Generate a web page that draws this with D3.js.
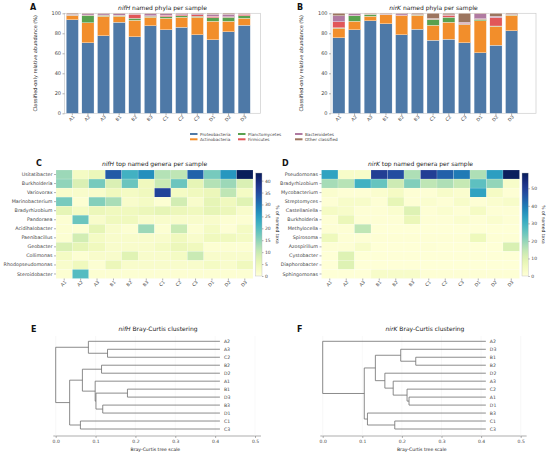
<!DOCTYPE html>
<html>
<head>
<meta charset="utf-8">
<script src="https://cdn.jsdelivr.net/npm/d3@7"></script>
<style>
  body { margin: 0; background: #fff; }
  text { font-family: "DejaVu Sans", sans-serif; }
</style>
</head>
<body>
<svg id="fig" width="550" height="457"></svg>
<script>
// ---- data ----
const samples = ['A1', 'A2', 'A3', 'B1', 'B2', 'B3', 'C1', 'C2', 'C3', 'D1', 'D2', 'D3'];
const phyla = ['Proteobacteria', 'Actinobacteria', 'Planctomycetes', 'Firmicutes', 'Bacteroidetes', 'Other classified'];
const phylaColors = ['#4e79a7', '#f28e2b', '#59a14f', '#e15759', '#b07aa1', '#9c755f'];

// % per phylum, one array per phylum (order = samples)
const nifHPhyla = [
  [93.5, 70.5, 77.5, 91.0, 76.5, 87.5, 83.5, 86.0, 78.5, 73.5, 81.5, 88.0],
  [4.0, 20.0, 19.5, 6.0, 16.5, 8.5, 11.5, 10.0, 17.5, 18.5, 10.5, 7.0],
  [0.5, 7.5, 1.0, 0.8, 2.0, 1.0, 1.5, 1.5, 1.0, 3.5, 4.0, 2.5],
  [0.3, 0.3, 0.3, 0.3, 4.0, 0.5, 1.5, 1.0, 1.5, 1.5, 0.5, 1.5],
  [0.7, 1.2, 1.2, 1.4, 0.5, 2.0, 1.5, 1.0, 1.0, 2.0, 2.5, 0.5],
  [1.0, 0.5, 0.5, 0.5, 0.5, 0.5, 0.5, 0.5, 0.5, 1.0, 1.0, 0.5]
];
const nirKPhyla = [
  [75.5, 83.5, 92.5, 89.5, 78.5, 84.0, 73.0, 74.0, 70.5, 60.5, 68.0, 82.5],
  [9.5, 8.5, 4.5, 9.0, 19.0, 14.0, 15.0, 17.0, 18.0, 32.0, 19.0, 15.5],
  [0.5, 5.5, 2.0, 0.3, 0.3, 0.3, 6.0, 5.0, 0.5, 1.5, 0.3, 0.3],
  [6.0, 0.3, 0.2, 0.2, 0.5, 0.2, 0.3, 2.0, 1.0, 0.5, 8.5, 0.2],
  [6.0, 2.0, 0.3, 0.5, 1.2, 0.3, 0.5, 0.5, 1.0, 5.0, 1.2, 0.5],
  [2.5, 0.2, 0.5, 0.5, 0.5, 1.2, 5.2, 1.5, 9.0, 0.5, 3.0, 1.0]
];

// top genera, % of named taxa (rows = genera, cols = samples)
const nifHGenera = ['Usitatibacter', 'Burkholderia', 'Variovorax', 'Marinobacterium', 'Bradyrhizobium', 'Pandoraea',
  'Acidihalobacter', 'Paenibacillus', 'Geobacter', 'Collimonas', 'Rhodopseudomonas', 'Steroidobacter'];
const nifHGenusPct = [
  [14, 3, 5, 33, 22, 27, 12, 11, 32, 17, 26, 43],
  [15, 8, 17, 8, 18, 4, 10, 18, 6, 12, 14, 8],
  [2, 2, 2, 4, 3, 4, 36, 3, 4, 5, 11, 3],
  [17, 1, 16, 13, 2, 3, 1, 9, 2, 6, 4, 7],
  [6, 3, 5, 4, 4, 5, 6, 5, 4, 6, 5, 2],
  [1, 18, 2, 4, 4, 2, 2, 2, 2, 2, 1, 1],
  [1, 1, 6, 2, 1, 14, 1, 10, 1, 3, 0.5, 3],
  [1, 9, 3, 2, 2, 2, 2, 4, 2, 4, 4, 3],
  [8, 6, 4, 2, 2, 2, 3, 5, 4, 1, 1, 1],
  [3, 1, 2, 2, 7, 2, 2, 3, 10, 2, 2, 2],
  [2, 4, 1, 5, 2, 2, 2, 2, 2, 3, 2, 4],
  [1, 20, 1, 1, 1, 1, 1, 1, 1, 1, 1, 1]
];
const nirKGenera = ['Pseudomonas', 'Bradyrhizobium', 'Mycobacterium', 'Streptomyces', 'Castellaniella', 'Burkholderia',
  'Methylocella', 'Spirosoma', 'Azospirillum', 'Cystobacter', 'Diaphorobacter', 'Sphingomonas'];
const nirKGenusPct = [
  [33, 3, 3, 50, 47, 17, 50, 44, 40, 17, 34, 58],
  [18, 16, 30, 25, 13, 22, 15, 17, 14, 26, 20, 3],
  [2, 1, 1, 2, 4, 1, 1, 3, 2, 33, 4, 1],
  [1, 3, 3, 1, 8, 1, 2, 1, 3, 1, 2, 3],
  [4, 3, 1, 1, 2, 10, 1, 2, 1, 4, 1, 1],
  [1, 7, 1, 1, 1, 7, 1, 1, 2, 1, 2, 1],
  [1, 1, 15, 0.5, 0.5, 0.5, 0.5, 0.5, 0.5, 0.5, 0.5, 0.5],
  [6, 1, 1, 1, 1, 1, 1, 1, 1, 6, 1, 1],
  [1, 1, 3, 0.5, 0.5, 0.5, 1, 0.5, 0.5, 0.5, 0.5, 11],
  [0.5, 10, 0.5, 0.5, 0.5, 0.5, 0.5, 0.5, 0.5, 0.5, 0.5, 0.5],
  [0.5, 10, 0.5, 0.5, 0.5, 0.5, 0.5, 0.5, 0.5, 0.5, 0.5, 0.5],
  [0.5, 0.5, 0.5, 3, 3, 3, 1, 1, 1, 1, 1, 1]
];

// Bray-Curtis trees: leaf order top->bottom, merges [left, right, height] (nK = merge K)
const treeLeafHeight = 0.412;
const nifHLeaves = ['A2', 'A3', 'C2', 'B2', 'D2', 'A1', 'B1', 'D3', 'B3', 'D1', 'C1', 'C3'];
const nifHMerges = [
  ['B1', 'D3', 0.18], ['B3', 'D1', 0.118], ['n0', 'n1', 0.101], ['A1', 'n2', 0.099],
  ['B2', 'D2', 0.115], ['n4', 'n3', 0.067], ['C1', 'C3', 0.062], ['n5', 'n6', 0.035],
  ['A3', 'C2', 0.13], ['A2', 'n8', 0.082], ['n9', 'n7', 0.0]
];
const nirKLeaves = ['A2', 'D3', 'B1', 'B2', 'D2', 'A3', 'C2', 'A1', 'D1', 'B3', 'C1', 'C3'];
const nirKMerges = [
  ['B1', 'B2', 0.235], ['D3', 'n0', 0.197], ['A1', 'D1', 0.218], ['C2', 'n2', 0.213],
  ['A3', 'n3', 0.178], ['D2', 'n4', 0.157], ['n1', 'n5', 0.133], ['C1', 'C3', 0.182],
  ['B3', 'n7', 0.113], ['n6', 'n8', 0.105], ['A2', 'n9', 0.0]
];

// ---- drawing ----
const svg = d3.select('#fig');
const txt = '#444';

function titleText(x, y, gene, rest, size) {
  const t = svg.append('text').attr('x', x).attr('y', y).attr('text-anchor', 'middle')
    .attr('font-size', size).attr('fill', '#222');
  t.append('tspan').attr('font-style', 'italic').text(gene);
  t.append('tspan').text(' ' + rest);
}
function panelLetter(x, y, l) {
  svg.append('text').attr('x', x).attr('y', y).attr('font-size', 8).attr('font-weight', 'bold')
    .attr('fill', '#111').text(l);
}
function styleAxis(a, fs) {
  a.select('.domain').remove();
  a.selectAll('line').attr('stroke', '#666').attr('stroke-width', 0.5);
  a.selectAll('text').attr('font-size', fs).attr('fill', txt).attr('font-family', '"DejaVu Sans", sans-serif');
}

// stacked bars (A, B)
function stackedBars(o) {
  const x = d3.scaleBand().domain(samples).range([o.x0, o.xr]).paddingInner(0.22).paddingOuter(0.11);
  const y = d3.scaleLinear().domain([0, 100]).range([o.y1, o.y0]);
  const rows = samples.map((s, i) => {
    const r = { sample: s };
    phyla.forEach((p, j) => r[p] = o.values[j][i]);
    return r;
  });
  const series = d3.stack().keys(phyla)(rows);
  const g = svg.append('g');
  g.append('rect').attr('x', o.x0).attr('y', o.y0).attr('width', o.x1 - o.x0).attr('height', o.y1 - o.y0)
    .attr('fill', 'none').attr('stroke', '#ccc').attr('stroke-width', 0.7);
  series.forEach((ser, j) => {
    g.selectAll(null).data(ser).join('rect')
      .attr('x', d => x(d.data.sample))
      .attr('width', x.bandwidth())
      .attr('y', d => y(d[1]))
      .attr('height', d => y(d[0]) - y(d[1]))
      .attr('fill', phylaColors[j])
      .attr('stroke', '#fff').attr('stroke-width', 0.3);
  });
  const ya = g.append('g').attr('transform', `translate(${o.x0},0)`)
    .call(d3.axisLeft(y).tickValues([0, 20, 40, 60, 80, 100]).tickSize(2).tickPadding(1.5));
  styleAxis(ya, 5);
  const xa = g.append('g').attr('transform', `translate(0,${o.y1})`)
    .call(d3.axisBottom(x).tickSize(2).tickPadding(1));
  styleAxis(xa, 4.5);
  xa.selectAll('text').attr('text-anchor', 'end').attr('dy', '0.6em')
    .attr('transform', 'rotate(-45) translate(-1,-1)');
  g.append('text').attr('transform', `translate(${o.ylabX},${(o.y0 + o.y1) / 2}) rotate(-90)`)
    .attr('text-anchor', 'middle').attr('font-size', 5).attr('fill', '#222')
    .text('Classified-only relative abundance (%)');
  titleText((o.x0 + o.x1) / 2, o.y0 - 3.5, o.gene, 'named phyla per sample', 6);
  panelLetter(o.letterX, o.y0 - 3, o.letter);
}

stackedBars({ x0: 64.5, xr: 252, x1: 260.5, y0: 13.3, y1: 113.3, values: nifHPhyla, gene: 'nifH', letter: 'A', letterX: 30, ylabX: 37 });
stackedBars({ x0: 331, xr: 519.5, x1: 536, y0: 13.3, y1: 113.3, values: nirKPhyla, gene: 'nirK', letter: 'B', letterX: 297, ylabX: 303 });

// legend
const legCols = [190, 238, 295, 337];
phyla.forEach((p, i) => {
  const col = Math.floor(i / 2), row = i % 2;
  const lx = legCols[col], ly = 134 + row * 5.3;
  svg.append('rect').attr('x', lx).attr('y', ly - 1).attr('width', 7.5).attr('height', 2).attr('fill', phylaColors[i]);
  svg.append('text').attr('x', lx + 10).attr('y', ly + 1.5).attr('font-size', 4.2).attr('fill', txt).text(p);
});

// heatmaps (C, D)
function heatmap(o) {
  const x = d3.scaleBand().domain(samples).range([o.x0, o.x1]);
  const y = d3.scaleBand().domain(o.genera).range([o.y0, o.y1]);
  const color = d3.scaleSequential(d3.interpolateYlGnBu).domain([0, o.max]);
  const cells = [];
  o.genera.forEach((gname, r) => samples.forEach((s, c) => cells.push({ g: gname, s, v: o.matrix[r][c] })));
  const g = svg.append('g');
  g.selectAll(null).data(cells).join('rect')
    .attr('x', d => x(d.s)).attr('y', d => y(d.g))
    .attr('width', x.bandwidth()).attr('height', y.bandwidth())
    .attr('fill', d => color(d.v))
    .attr('stroke', '#fff').attr('stroke-width', 0.25).attr('stroke-opacity', 0.6);
  const ya = g.append('g').attr('transform', `translate(${o.x0},0)`)
    .call(d3.axisLeft(y).tickSize(2).tickPadding(1.5));
  styleAxis(ya, 4.8);
  const xa = g.append('g').attr('transform', `translate(0,${o.y1})`)
    .call(d3.axisBottom(x).tickSize(2).tickPadding(1));
  styleAxis(xa, 4.5);
  xa.selectAll('text').attr('text-anchor', 'end').attr('dy', '0.6em')
    .attr('transform', 'rotate(-45) translate(-1,-1)');

  // colorbar
  const cb = d3.scaleLinear().domain([0, o.max]).range([o.cbY1, o.cbY0]);
  const gid = 'grad' + o.letter;
  const grad = svg.append('defs').append('linearGradient').attr('id', gid)
    .attr('x1', 0).attr('y1', 1).attr('x2', 0).attr('y2', 0);
  d3.range(0, 1.0001, 0.05).forEach(t => grad.append('stop').attr('offset', t).attr('stop-color', color(t * o.max)));
  g.append('rect').attr('x', o.cbX).attr('y', o.cbY0).attr('width', 6.3).attr('height', o.cbY1 - o.cbY0)
    .attr('fill', `url(#${gid})`).attr('stroke', '#bbb').attr('stroke-width', 0.4);
  const ca = g.append('g').attr('transform', `translate(${o.cbX + 6.3},0)`)
    .call(d3.axisRight(cb).tickValues(o.cbTicks).tickSize(1.5).tickPadding(1.5));
  styleAxis(ca, 4.5);
  g.append('text').attr('transform', `translate(${o.cbX + 20},${(o.cbY0 + o.cbY1) / 2}) rotate(90)`)
    .attr('text-anchor', 'middle').attr('font-size', 4.5).attr('fill', '#222').text('% of named taxa');

  titleText((o.x0 + o.x1) / 2, o.y0 - 4, o.gene, 'top named genera per sample', 6);
  panelLetter(o.letterX, o.y0 - 4, o.letter);
}

heatmap({ x0: 56, x1: 253, y0: 170, y1: 278.5, genera: nifHGenera, matrix: nifHGenusPct, max: 43.2,
  cbX: 255.7, cbY0: 173, cbY1: 276, cbTicks: [0, 5, 10, 15, 20, 25, 30, 35, 40], gene: 'nifH', letter: 'C', letterX: 36 });
heatmap({ x0: 321.5, x1: 519.5, y0: 170, y1: 278.5, genera: nirKGenera, matrix: nirKGenusPct, max: 58.7,
  cbX: 522, cbY0: 173, cbY1: 276, cbTicks: [0, 10, 20, 30, 40, 50], gene: 'nirK', letter: 'D', letterX: 282 });

// dendrograms (E, F)
function dendro(o) {
  const x = d3.scaleLinear().domain([0, 0.5]).range([o.x0, o.x5]);
  const y = d3.scalePoint().domain(o.leaves).range([341.3, 429]);
  const g = svg.append('g');
  const xa = g.append('g').attr('transform', 'translate(0,436)')
    .call(d3.axisBottom(x).tickValues([0, 0.1, 0.2, 0.3, 0.4, 0.5]).tickFormat(d3.format('.1f')).tickSize(2).tickPadding(1.5));
  styleAxis(xa, 4.5);
  g.append('line').attr('x1', x(-0.006)).attr('x2', x(0.515)).attr('y1', 436).attr('y2', 436)
    .attr('stroke', '#777').attr('stroke-width', 0.6);
  // faint grid
  g.selectAll(null).data([0, 0.1, 0.2, 0.3, 0.4, 0.5]).join('line')
    .attr('x1', d => x(d)).attr('x2', d => x(d)).attr('y1', 336).attr('y2', 436)
    .attr('stroke', '#eee').attr('stroke-width', 0.4);
  g.append('text').attr('x', x(0.25)).attr('y', 451).attr('text-anchor', 'middle')
    .attr('font-size', 4.6).attr('fill', '#222').text('Bray-Curtis tree scale');

  const pos = {};
  o.leaves.forEach(l => pos[l] = { x: treeLeafHeight, y: y(l) });
  o.merges.forEach((m, k) => {
    const a = pos[m[0]], b = pos[m[1]], h = m[2];
    pos['n' + k] = { x: h, y: (a.y + b.y) / 2 };
    const path = d3.path();
    path.moveTo(x(a.x), a.y); path.lineTo(x(h), a.y); path.lineTo(x(h), b.y); path.lineTo(x(b.x), b.y);
    g.append('path').attr('d', path.toString()).attr('fill', 'none').attr('stroke', '#6e6e6e').attr('stroke-width', 0.8);
  });
  g.selectAll(null).data(o.leaves).join('text')
    .attr('x', x(treeLeafHeight) + 4).attr('y', d => y(d)).attr('dy', '0.35em')
    .attr('font-size', 4.6).attr('fill', txt).text(d => d);

  titleText(o.titleX, 331, o.gene, 'Bray-Curtis clustering', 6);
  panelLetter(o.letterX, 332, o.letter);
}

dendro({ x0: 55.7, x5: 255, leaves: nifHLeaves, merges: nifHMerges, gene: 'nifH', letter: 'E', letterX: 31, titleX: 158 });
dendro({ x0: 322.7, x5: 520.7, leaves: nirKLeaves, merges: nirKMerges, gene: 'nirK', letter: 'F', letterX: 297, titleX: 425 });
</script>
</body>
</html>
